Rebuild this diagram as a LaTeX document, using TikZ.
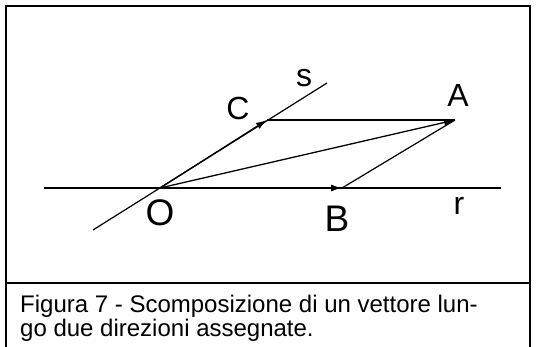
\documentclass[tikz,border=0pt]{standalone}
\usepackage{fontspec}
\setmainfont{Liberation Sans}
\usetikzlibrary{arrows.meta}

\begin{document}
\begin{tikzpicture}[
  x=1pt, y=-1pt,
  lbl/.style={inner sep=0pt, font=\fontsize{32}{32}\selectfont},
  biglbl/.style={lbl, font=\fontsize{37}{37}\selectfont},
  vec/.style={-{Latex[length=11pt,width=7pt]}, line width=1.3pt},
  thin line/.style={line width=1.2pt},
  caption/.style={anchor=base west, inner sep=0pt, font=\fontsize{24}{24}\selectfont}
]
\useasboundingbox (0,0) rectangle (536,347);

% frame with caption panel
\draw[line width=2pt] (6,350) -- (6,6) -- (530,6) -- (530,350);
\draw[line width=2pt] (6,283) -- (530,283);

% points
\coordinate (O) at (160,188);
\coordinate (B) at (342,188);
\coordinate (C) at (267,120);
\coordinate (A) at (455,120);
\coordinate (r1) at (44,188);
\coordinate (r2) at (501,188);
\coordinate (s1) at (93,230);
\coordinate (s2) at (327,83);

% the two directions
\draw[thin line] (r1) -- (r2);
\draw[thin line] (s1) -- (s2);

% vector and its components
\draw[vec] (O) -- (C);
\draw[vec] (O) -- (B);
\draw[vec] (O) -- (A);
\draw[thin line] (C) -- (A);
\draw[thin line] (B) -- (A);

% labels
\node[lbl] (lblS) at (304,78) {s};
\node[lbl] (lblC) at (238,108) {C};
\node[lbl] (lblA) at (458,95) {A};
\node[biglbl] (lblO) at (160,213) {O};
\node[biglbl] (lblB) at (337,219) {B};
\node[lbl] (lblR) at (459,206) {r};

\node[caption] (cap1) at (20,313) {Figura 7 - Scomposizione di un vettore lun-};
\node[caption] (cap2) at (20,337) {go due direzioni assegnate.};
\end{tikzpicture}
\end{document}
